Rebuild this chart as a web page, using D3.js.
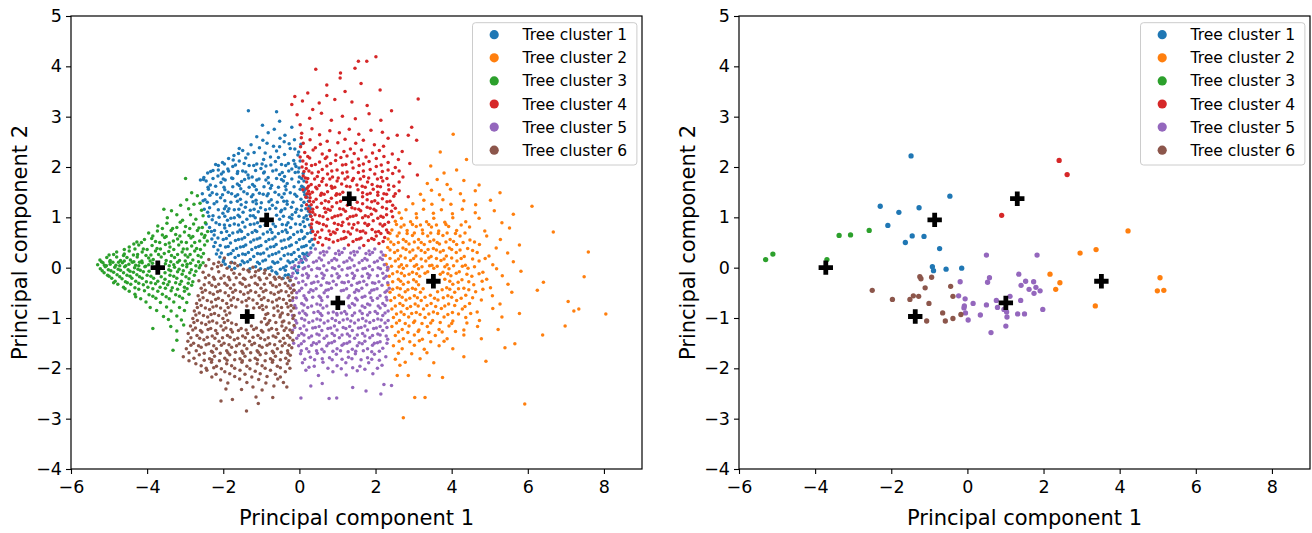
<!DOCTYPE html>
<meta charset="utf-8">
<style>
    body { margin: 0; background: #fff; }
    text { font-family: "DejaVu Sans", sans-serif; fill: #000; }
</style>
<body>
<script src="https://cdn.jsdelivr.net/npm/d3@7"></script>
<script>

// Legend labels and tab10 colours
var clusterNames = ['Tree cluster 1', 'Tree cluster 2', 'Tree cluster 3', 'Tree cluster 4', 'Tree cluster 5', 'Tree cluster 6'];
var clusterColors = ['#1f77b4', '#ff7f0e', '#2ca02c', '#d62728', '#9467bd', '#8c564b'];

var xTickValues = [-6, -4, -2, 0, 2, 4, 6, 8];
var yTickValues = [-4, -3, -2, -1, 0, 1, 2, 3, 4, 5];

// Cluster centres (same in both panels)
var centroids = [[-0.86, 0.95], [3.52, -0.27], [-3.72, 0.0], [1.31, 1.37], [1.01, -0.70], [-1.37, -0.97]];

// Left panel: all trees (PC1, PC2)
var allTrees1 = [
[-1.34,3.12],[-0.6,3.1],[-0.52,2.91],[-0.97,2.83],[-0.2,2.79],
[-1.12,2.6],[-0.82,2.68],[-0.38,2.63],[-0.66,2.75],
[-1.27,2.44],[-0.96,2.53],[-0.68,2.41],[-0.51,2.57],[-0.27,2.46],[-1.58,2.37],[-0.13,2.54],
[-1.72,2.23],[-1.49,2.33],[-1.19,2.29],[-1.05,2.38],[-0.76,2.2],[-0.6,2.32],[-0.39,2.25],[-0.24,2.37],[-0.04,2.24],
[-2.02,2.09],[-1.86,2.17],[-1.58,2.12],[-1.41,2.18],[-1.12,2.06],[-0.94,2.15],[-0.63,2.11],[-0.55,2.19],[-0.29,2.07],[-0.15,2.13],
[-2.27,1.93],[-2.13,2.03],[-1.88,1.96],[-1.75,2.01],[-1.49,1.92],[-1.32,2.03],[-1.01,1.97],[-0.88,2.02],[-0.61,1.94],[-0.47,2.05],[-0.2,1.96],[-0.09,2.01],
[-2.51,1.79],[-2.41,1.88],[-2.14,1.82],[-2.05,1.86],[-1.78,1.78],[-1.63,1.87],[-1.35,1.84],[-1.24,1.8],[-0.94,1.88],[-0.82,1.79],[-0.52,1.85],[-0.39,1.81],[-0.11,1.89],[0.0,1.8],
[-2.45,1.72],[-2.34,1.64],[-2.06,1.69],[-1.95,1.74],[-1.63,1.66],[-1.52,1.71],[-1.23,1.65],[-1.12,1.74],[-0.81,1.68],[-0.73,1.63],[-0.42,1.72],[-0.32,1.67],[-0.02,1.7],[0.06,1.62],
[-2.39,1.56],[-2.29,1.49],[-1.96,1.55],[-1.87,1.5],[-1.54,1.57],[-1.46,1.51],[-1.13,1.55],[-1.05,1.48],[-0.76,1.58],[-0.64,1.5],[-0.35,1.55],[-0.24,1.49],[0.02,1.56],[0.12,1.51],
[-2.48,1.35],[-2.35,1.44],[-2.07,1.39],[-1.96,1.33],[-1.68,1.42],[-1.55,1.36],[-1.26,1.41],[-1.14,1.34],[-0.85,1.43],[-0.74,1.35],[-0.46,1.4],[-0.33,1.32],[-0.07,1.42],[0.04,1.36],[0.18,1.41],
[-2.36,1.19],[-2.24,1.27],[-1.93,1.22],[-1.85,1.17],[-1.53,1.25],[-1.42,1.2],[-1.13,1.27],[-1.02,1.19],[-0.71,1.24],[-0.62,1.18],[-0.32,1.26],[-0.21,1.2],[0.06,1.23],[0.17,1.17],
[-2.41,1.1],[-2.27,1.03],[-2.01,1.08],[-1.88,1.12],[-1.61,1.04],[-1.48,1.1],[-1.21,1.03],[-1.08,1.11],[-0.6,1.04],[-0.49,1.11],[-0.19,1.05],[-0.1,1.1],[0.18,1.03],[0.24,1.12],
[-2.29,0.95],[-2.19,0.89],[-1.89,0.94],[-1.8,0.98],[-1.49,0.9],[-1.38,0.96],[-1.1,0.89],[-0.52,0.96],[-0.3,0.89],[-0.2,0.97],[0.1,0.91],[0.21,0.96],
[-2.36,0.8],[-2.23,0.74],[-1.96,0.79],[-1.83,0.84],[-1.56,0.75],[-1.43,0.81],[-1.16,0.74],[-1.03,0.82],[-0.76,0.76],[-0.63,0.82],[-0.36,0.75],[-0.23,0.8],[0.05,0.74],[0.14,0.82],[0.32,0.76],
[-2.24,0.65],[-2.14,0.59],[-1.84,0.64],[-1.75,0.69],[-1.44,0.6],[-1.35,0.66],[-1.04,0.59],[-0.95,0.67],[-0.64,0.61],[-0.55,0.68],[-0.24,0.6],[-0.15,0.66],[0.14,0.61],[0.21,0.68],
[-2.21,0.5],[-2.08,0.44],[-1.81,0.49],[-1.68,0.54],[-1.41,0.45],[-1.28,0.51],[-1.01,0.44],[-0.88,0.52],[-0.61,0.46],[-0.48,0.53],[-0.21,0.45],[-0.08,0.5],[0.18,0.44],[0.27,0.52],
[-2.14,0.35],[-2.05,0.29],[-1.74,0.34],[-1.65,0.38],[-1.34,0.3],[-1.25,0.36],[-0.94,0.29],[-0.85,0.37],[-0.54,0.31],[-0.45,0.38],[-0.14,0.3],[-0.03,0.36],[0.2,0.29],[0.3,0.39],
[-2.09,0.21],[-1.99,0.15],[-1.69,0.2],[-1.6,0.24],[-1.29,0.16],[-1.2,0.22],[-0.89,0.15],[-0.8,0.23],[-0.49,0.17],[-0.4,0.24],[-0.09,0.16],[0.0,0.22],[0.22,0.24],
[-1.95,0.07],[-1.84,0.02],[-1.55,0.06],[-1.45,0.1],[-1.15,0.02],[-1.05,0.08],[-0.75,0.01],[-0.65,0.09],[-0.35,0.03],[-0.25,0.1],[-0.02,0.02],[0.08,0.11],
[-0.72,-0.06],[-0.59,-0.12],[-0.37,-0.05],[-0.29,-0.14],[-0.08,-0.06],[-1.02,-0.02],[-0.43,-0.21],[-0.25,-0.26],
[-2.6,1.74],[-2.53,1.33],[-2.13,1.94],[-1.74,2.14],
[-1.6,2.27],[-1.35,2.26],[-0.9,2.28],[-0.52,2.4],[-0.12,2.36],[-0.85,2.47],[-0.4,2.5],
[-2.2,2.05],[-1.97,2.06],[-1.68,2.04],[-1.45,2.07],[-1.2,2.03],[-0.98,2.06],[-0.75,2.04],[-0.36,2.03],[-0.12,2.06],
[-2.33,1.91],[-2.0,1.9],[-1.86,1.92],[-1.62,1.91],[-1.41,1.9],[-1.15,1.93],[-0.92,1.9],[-0.7,1.92],[-0.45,1.89],[-0.28,1.92],[-0.03,1.9],
[-2.52,1.75],[-2.27,1.77],[-2.0,1.76],[-1.75,1.77],[-1.44,1.75],[-1.33,1.78],[-1.06,1.76],[-0.88,1.74],[-0.6,1.77],[-0.47,1.75],[-0.2,1.76],[0.06,1.77],
[-2.4,1.6],[-2.2,1.62],[-1.98,1.6],[-1.75,1.61],[-1.58,1.63],[-1.32,1.6],[-1.18,1.62],[-0.93,1.61],[-0.55,1.6],[-0.37,1.62],[-0.14,1.61],[0.1,1.6],
[-2.55,1.47],[-2.17,1.46],[-2.02,1.45],[-1.78,1.47],[-1.62,1.45],[-1.37,1.47],[-1.22,1.45],[-0.95,1.46],[-0.82,1.47],[-0.54,1.45],[-0.4,1.47],[-0.12,1.46],[0.14,1.45],
[-2.42,1.3],[-2.17,1.31],[-1.8,1.3],[-1.63,1.32],[-1.4,1.3],[-1.22,1.31],[-1.0,1.29],[-0.8,1.31],[-0.58,1.3],[-0.41,1.32],[-0.17,1.3],[0.12,1.3],[0.24,1.32],
[-2.5,1.16],[-2.13,1.15],[-1.97,1.17],[-1.71,1.15],[-1.59,1.16],[-1.29,1.14],[-1.19,1.16],[-0.89,1.15],[-0.78,1.17],[-0.47,1.14],[-0.38,1.17],[-0.07,1.16],[0.05,1.14],[0.3,1.17],
[-2.38,1.02],[-2.11,1.0],[-1.96,1.02],[-1.71,0.99],[-1.57,1.01],[-1.29,1.03],[-1.16,0.99],[-0.42,1.02],[-0.26,1.0],[-0.01,1.02],[0.12,0.99],[0.3,1.02],
[-2.45,0.87],[-2.1,0.86],[-1.97,0.85],[-1.71,0.87],[-1.6,0.85],[-1.29,0.86],[-1.19,0.87],[-0.9,0.85],[-0.69,0.87],[-0.45,0.86],[-0.34,0.85],[-0.1,0.87],[0.02,0.86],[0.27,0.85],
[-2.31,0.72],[-2.05,0.7],[-1.91,0.72],[-1.62,0.71],[-1.52,0.72],[-1.24,0.7],[-1.12,0.72],[-0.84,0.71],[-0.72,0.7],[-0.45,0.72],[-0.32,0.7],[-0.05,0.71],[0.06,0.72],[0.3,0.7],
[-2.3,0.57],[-2.0,0.56],[-1.92,0.58],[-1.6,0.56],[-1.51,0.57],[-1.2,0.55],[-1.11,0.57],[-0.8,0.56],[-0.7,0.57],[-0.4,0.55],[-0.29,0.57],[0.0,0.56],[0.1,0.58],[0.33,0.56],
[-2.25,0.42],[-1.94,0.41],[-1.87,0.42],[-1.55,0.41],[-1.47,0.42],[-1.15,0.4],[-1.07,0.42],[-0.76,0.41],[-0.67,0.42],[-0.36,0.4],[-0.26,0.43],[0.06,0.41],[0.12,0.42],[0.36,0.45],
[-2.18,0.27],[-1.87,0.26],[-1.8,0.28],[-1.49,0.27],[-1.42,0.26],[-1.1,0.28],[-1.02,0.27],[-0.71,0.26],[-0.62,0.28],[-0.3,0.27],[-0.21,0.26],[0.09,0.28],[0.13,0.26],
[-2.0,0.12],[-1.78,0.11],[-1.5,0.13],[-1.36,0.12],[-1.1,0.11],[-0.96,0.13],[-0.7,0.12],[-0.57,0.11],[-0.3,0.13],[-0.17,0.12],[0.05,0.16],[0.15,0.18],
[-1.7,-0.01],[-1.3,-0.02],[-0.9,-0.04],[-0.82,-0.01],[-0.5,-0.03],[-0.42,0.0],[-0.15,-0.01],[-0.05,-0.1],[-0.22,-0.18],[-0.37,-0.15],[-0.62,-0.09],
[0.02,2.12],[-0.01,1.98],[0.1,1.87],[0.12,1.72],[0.16,1.56],[0.2,1.4],[0.26,1.22],[0.28,1.05],[-0.02,2.3],[0.04,2.45]
];

var allTrees2 = [
[4.04,2.65],[4.39,2.15],[4.13,1.94],[3.7,2.3],[3.45,2.02],[3.8,1.88],
[3.36,1.67],[3.62,1.75],[3.88,1.65],[4.32,1.73],[4.72,1.64],
[3.18,1.46],[3.47,1.54],[3.68,1.45],[3.97,1.56],[4.23,1.47],[4.62,1.53],[5.27,1.49],
[2.98,1.27],[3.27,1.34],[3.48,1.26],[3.77,1.35],[3.98,1.26],[4.32,1.33],[4.63,1.25],[5.02,1.34],[6.11,1.22],
[2.62,1.09],[2.8,1.15],[3.07,1.07],[3.26,1.16],[3.52,1.08],[3.73,1.15],[4.02,1.07],[4.28,1.16],[4.62,1.09],[5.12,1.13],[5.62,1.06],
[2.52,0.92],[2.68,0.98],[2.92,0.91],[3.08,0.99],[3.34,0.91],[3.53,0.98],[3.82,0.9],[4.03,0.99],[4.37,0.91],[4.72,0.98],[5.32,0.89],
[2.43,0.75],[2.67,0.81],[2.83,0.74],[3.07,0.82],[3.23,0.75],[3.47,0.81],[3.66,0.73],[3.92,0.82],[4.13,0.74],[4.47,0.81],[4.87,0.73],[5.52,0.79],[6.67,0.71],
[2.33,0.57],[2.57,0.63],[2.73,0.56],[2.97,0.64],[3.13,0.56],[3.37,0.63],[3.53,0.55],[3.77,0.64],[3.96,0.56],[4.22,0.63],[4.48,0.55],[4.92,0.63],[5.28,0.56],
[2.32,0.4],[2.48,0.46],[2.72,0.39],[2.88,0.47],[3.12,0.39],[3.28,0.46],[3.52,0.38],[3.68,0.47],[3.94,0.39],[4.13,0.46],[4.42,0.38],[4.73,0.46],[5.17,0.39],[5.78,0.45],
[2.26,0.24],[2.5,0.3],[2.66,0.23],[2.9,0.31],[3.06,0.23],[3.3,0.3],[3.46,0.22],[3.7,0.31],[3.86,0.23],[4.12,0.3],[4.33,0.22],[4.67,0.3],[4.98,0.23],[5.47,0.29],[7.59,0.31],
[2.28,0.07],[2.52,0.13],[2.68,0.06],[2.92,0.14],[3.08,0.06],[3.32,0.13],[3.48,0.05],[3.72,0.14],[3.88,0.06],[4.14,0.13],[4.36,0.05],[4.72,0.13],[5.08,0.06],[5.62,0.12],
[2.33,-0.02],[2.57,-0.08],[2.73,-0.01],[2.97,-0.09],[3.13,-0.02],[3.37,-0.08],[3.53,-0.01],[3.77,-0.09],[3.93,-0.02],[4.2,-0.08],[4.43,-0.01],[4.82,-0.09],[5.18,-0.02],[5.82,-0.07],
[2.36,-0.17],[2.6,-0.23],[2.76,-0.16],[3.0,-0.24],[3.16,-0.17],[3.82,-0.23],[3.98,-0.16],[4.27,-0.24],[4.53,-0.17],[4.92,-0.23],[5.33,-0.16],[7.48,-0.18],[6.41,-0.29],
[2.33,-0.34],[2.57,-0.4],[2.73,-0.33],[2.97,-0.41],[3.13,-0.34],[3.87,-0.4],[4.03,-0.33],[4.32,-0.41],[4.58,-0.34],[5.02,-0.4],[5.48,-0.33],[6.25,-0.45],
[2.38,-0.49],[2.62,-0.55],[2.78,-0.48],[3.02,-0.56],[3.18,-0.49],[3.44,-0.55],[3.63,-0.48],[3.9,-0.56],[4.08,-0.49],[4.37,-0.55],[4.63,-0.48],[5.07,-0.56],[5.58,-0.49],
[2.4,-0.65],[2.64,-0.71],[2.8,-0.64],[3.04,-0.72],[3.2,-0.65],[3.46,-0.71],[3.64,-0.64],[3.92,-0.72],[4.13,-0.65],[4.47,-0.71],[4.78,-0.64],[5.27,-0.72],[7.06,-0.67],
[2.43,-0.82],[2.67,-0.88],[2.83,-0.81],[3.07,-0.89],[3.26,-0.82],[3.52,-0.88],[3.73,-0.81],[4.02,-0.89],[4.28,-0.82],[4.67,-0.88],[5.08,-0.81],[5.78,-0.91],[7.21,-0.86],[7.34,-0.82],[8.05,-0.92],
[2.47,-0.99],[2.63,-1.05],[2.87,-0.98],[3.03,-1.06],[3.3,-0.99],[3.5,-1.05],[3.8,-0.98],[4.03,-1.06],[4.37,-0.99],[4.73,-1.05],[5.32,-0.98],
[2.43,-1.17],[2.7,-1.23],[2.88,-1.16],[3.14,-1.24],[3.36,-1.17],[3.67,-1.23],[3.93,-1.16],[4.32,-1.24],[4.68,-1.17],[5.22,-1.23],[6.98,-1.16],
[2.52,-1.35],[2.73,-1.41],[3.02,-1.34],[3.23,-1.42],[3.57,-1.35],[3.88,-1.41],[4.32,-1.34],[4.78,-1.41],[6.39,-1.34],
[2.47,-1.55],[2.7,-1.61],[3.02,-1.54],[3.28,-1.62],[3.67,-1.55],[4.03,-1.61],[4.32,-1.77],[5.4,-1.59],[5.66,-1.51],
[2.52,-1.82],[2.78,-1.88],[3.17,-1.81],[3.53,-1.89],[4.9,-1.86],[2.64,-1.94],
[2.57,-2.14],[2.86,-2.14],[3.41,-2.14],[3.76,-2.18],
[3.03,-2.58],[3.3,-2.58],[2.73,-2.98],[5.92,-2.71],
[2.55,0.86],[2.75,0.85],[2.97,0.86],[3.18,0.85],[3.4,0.86],[3.6,0.85],[3.85,0.86],[4.25,0.85],
[2.38,0.68],[2.62,0.69],[2.83,0.68],[3.02,0.69],[3.24,0.68],[3.45,0.69],[3.65,0.68],[3.88,0.69],[4.1,0.68],[4.35,0.69],
[2.4,0.51],[2.6,0.5],[2.8,0.52],[3.02,0.51],[3.2,0.5],[3.43,0.52],[3.62,0.5],[3.85,0.51],[4.05,0.52],[4.3,0.5],[4.6,0.51],
[2.38,0.35],[2.58,0.34],[2.8,0.36],[2.98,0.35],[3.2,0.34],[3.38,0.36],[3.6,0.35],[3.78,0.34],[4.0,0.36],[4.22,0.35],[4.55,0.34],
[2.38,0.18],[2.6,0.17],[2.78,0.19],[3.0,0.18],[3.2,0.17],[3.4,0.19],[3.6,0.18],[3.8,0.17],[4.0,0.19],[4.25,0.18],[4.55,0.17],[4.88,0.18],
[2.42,0.03],[2.62,0.02],[2.82,0.04],[3.02,0.03],[3.22,0.02],[3.42,0.04],[3.62,0.03],[3.82,0.02],[4.05,0.04],[4.28,0.03],[4.6,0.02],
[2.45,-0.12],[2.68,-0.11],[2.88,-0.13],[3.08,-0.12],[3.3,-0.11],[3.7,-0.13],[3.9,-0.12],[4.12,-0.11],[4.4,-0.13],[4.72,-0.12],
[2.45,-0.28],[2.66,-0.27],[2.86,-0.29],[3.07,-0.28],[3.95,-0.27],[4.17,-0.29],[4.45,-0.28],[4.8,-0.27],
[2.45,-0.43],[2.65,-0.42],[2.85,-0.44],[3.05,-0.43],[3.25,-0.42],[3.75,-0.44],[3.95,-0.43],[4.18,-0.42],[4.45,-0.44],[4.82,-0.43],
[2.5,-0.6],[2.7,-0.59],[2.9,-0.61],[3.1,-0.6],[3.3,-0.59],[3.55,-0.61],[3.78,-0.6],[4.0,-0.59],[4.25,-0.61],[4.55,-0.6],
[2.52,-0.76],[2.72,-0.75],[2.92,-0.77],[3.12,-0.76],[3.35,-0.75],[3.58,-0.77],[3.82,-0.76],[4.08,-0.75],[4.35,-0.77],
[2.55,-0.92],[2.75,-0.93],[2.95,-0.91],[3.17,-0.93],[3.4,-0.92],[3.63,-0.91],[3.9,-0.93],[4.18,-0.92],[4.5,-0.91],
[2.55,-1.1],[2.78,-1.11],[3.0,-1.09],[3.22,-1.11],[3.45,-1.1],[3.7,-1.09],[4.0,-1.11],[4.4,-1.1],
[2.6,-1.28],[2.85,-1.29],[3.12,-1.27],[3.4,-1.29],[3.75,-1.28],[4.1,-1.27],
[2.62,-1.46],[2.9,-1.47],[3.15,-1.45],[3.45,-1.47],[3.8,-1.46],
[2.6,-1.7],[2.95,-1.71],[3.35,-1.69]
];

var allTrees3 = [
[-2.99,1.77],[-2.83,1.49],[-2.96,1.35],[-2.68,1.43],[-2.61,1.28],
[-3.56,1.16],[-3.36,1.13],[-3.12,1.24],[-2.91,1.17],[-2.77,1.26],[-2.57,1.14],
[-3.47,0.99],[-3.22,1.05],[-3.07,0.94],[-2.86,1.05],[-2.72,0.96],[-2.53,1.03],
[-3.72,0.83],[-3.48,0.88],[-3.33,0.78],[-3.13,0.9],[-2.99,0.82],[-2.78,0.87],[-2.64,0.79],[-2.47,0.89],
[-3.96,0.69],[-3.73,0.73],[-3.6,0.65],[-3.37,0.74],[-3.25,0.66],[-3.02,0.71],[-2.9,0.64],[-2.68,0.74],[-2.57,0.67],[-2.41,0.72],
[-4.27,0.51],[-3.88,0.58],[-4.07,0.56],[-3.67,0.5],[-3.54,0.6],[-3.31,0.53],[-3.2,0.57],[-2.97,0.5],[-2.85,0.59],[-2.62,0.53],[-2.5,0.6],
[-4.47,0.41],[-4.22,0.45],[-4.1,0.37],[-3.87,0.44],[-3.74,0.38],[-3.52,0.46],[-3.4,0.41],[-3.17,0.45],[-3.05,0.37],[-2.83,0.43],[-2.7,0.38],[-2.49,0.45],
[-4.8,0.31],[-4.6,0.27],[-4.47,0.33],[-4.25,0.26],[-4.13,0.31],[-3.9,0.25],[-3.78,0.33],[-3.55,0.28],[-3.43,0.32],[-3.2,0.26],[-3.08,0.31],[-2.87,0.26],[-2.75,0.33],[-2.52,0.28],
[-5.24,0.15],[-5.06,0.2],[-4.97,0.14],[-4.8,0.21],[-4.7,0.14],[-4.53,0.2],[-4.44,0.15],[-4.26,0.21],[-4.14,0.13],[-3.96,0.19],[-3.84,0.16],[-3.63,0.21],[-3.5,0.14],[-3.28,0.2],[-3.15,0.14],[-2.93,0.21],[-2.8,0.15],[-2.58,0.21],
[-5.3,0.06],[-5.16,0.1],[-5.07,0.04],[-4.9,0.11],[-4.82,0.05],[-4.65,0.1],[-4.56,0.04],[-4.39,0.11],[-4.3,0.05],[-4.13,0.1],[-4.04,0.03],[-3.86,0.09],[-3.52,0.08],[-3.42,0.04],[-3.2,0.11],[-3.07,0.05],[-2.86,0.09],[-2.72,0.04],[-2.53,0.1],
[-5.23,-0.02],[-5.1,0.02],[-5.02,-0.04],[-4.85,0.01],[-4.76,-0.03],[-4.59,0.02],[-4.5,-0.04],[-4.33,0.0],[-4.24,-0.03],[-4.06,0.02],[-3.43,-0.04],[-3.28,0.01],[-3.16,-0.03],[-2.96,0.02],[-2.84,-0.04],[-2.63,0.0],
[-5.13,-0.1],[-5.04,-0.15],[-4.88,-0.09],[-4.79,-0.14],[-4.62,-0.1],[-4.53,-0.15],[-4.36,-0.09],[-4.27,-0.14],[-4.1,-0.08],[-4.0,-0.15],[-3.53,-0.1],[-3.4,-0.15],[-3.2,-0.08],[-3.08,-0.13],[-2.88,-0.1],[-2.76,-0.15],
[-4.93,-0.21],[-4.84,-0.27],[-4.66,-0.22],[-4.57,-0.28],[-4.4,-0.21],[-4.3,-0.27],[-4.13,-0.21],[-4.02,-0.28],[-3.83,-0.21],[-3.72,-0.27],[-3.53,-0.23],[-3.42,-0.28],[-3.22,-0.21],[-3.1,-0.27],[-2.9,-0.22],[-2.8,-0.28],
[-4.77,-0.33],[-4.62,-0.39],[-4.43,-0.33],[-4.32,-0.4],[-4.1,-0.34],[-3.98,-0.39],[-3.78,-0.32],[-3.66,-0.39],[-3.46,-0.34],[-3.34,-0.4],[-3.14,-0.33],[-3.02,-0.39],[-2.83,-0.35],
[-4.47,-0.47],[-4.32,-0.53],[-4.07,-0.46],[-3.95,-0.54],[-3.72,-0.47],[-3.6,-0.53],[-3.37,-0.46],[-3.25,-0.54],[-3.02,-0.47],[-2.9,-0.53],
[-4.17,-0.62],[-4.03,-0.68],[-3.77,-0.61],[-3.65,-0.69],[-3.42,-0.62],[-3.3,-0.68],[-3.07,-0.61],[-2.96,-0.69],
[-3.92,-0.79],[-3.75,-0.85],[-3.49,-0.78],[-3.37,-0.86],[-3.15,-0.79],[-3.02,-0.85],
[-3.57,-0.97],[-3.44,-1.03],[-3.22,-0.96],[-3.1,-1.04],
[-3.85,-1.21],[-3.38,-1.17],[-3.22,-1.26],[-3.04,-1.14],
[-3.22,-1.44],[-3.32,-1.64],
[-5.0,0.25],[-4.88,0.26],[-4.62,0.24],[-4.36,0.25],[-4.03,0.24],[-3.7,0.26],[-3.36,0.24],[-3.0,0.25],[-2.66,0.24],
[-5.2,0.12],[-4.98,0.12],[-4.75,0.11],[-4.6,0.13],[-4.35,0.12],[-4.2,0.11],[-3.92,0.13],[-3.38,0.12],[-3.0,0.13],[-2.65,0.12],
[-5.12,0.05],[-4.97,0.07],[-4.72,0.04],[-4.48,0.07],[-4.22,0.04],[-3.96,0.06],[-3.3,0.06],[-2.95,0.07],[-2.6,0.05],
[-5.18,-0.06],[-4.95,-0.06],[-4.7,-0.05],[-4.45,-0.07],[-4.18,-0.05],[-3.95,-0.07],[-3.38,-0.06],[-3.05,-0.06],[-2.72,-0.07],
[-5.0,-0.17],[-4.72,-0.18],[-4.45,-0.17],[-4.2,-0.18],[-3.9,-0.17],[-3.63,-0.18],[-3.3,-0.17],[-2.98,-0.18],
[-4.88,-0.3],[-4.52,-0.3],[-4.22,-0.31],[-3.9,-0.3],[-3.57,-0.31],[-3.25,-0.3],[-2.92,-0.31],
[-4.58,-0.42],[-4.22,-0.43],[-3.85,-0.42],[-3.52,-0.41],[-3.2,-0.43],[-2.95,-0.42],
[-4.3,-0.58],[-3.85,-0.57],[-3.5,-0.58],[-3.15,-0.57],
[-4.6,0.36],[-4.32,0.37],[-4.0,0.36],[-3.65,0.37],[-3.3,0.36],[-2.95,0.37],[-2.6,0.36],
[-4.35,0.47],[-4.15,0.5],[-3.78,0.52],[-3.42,0.49],[-3.1,0.51],[-2.75,0.5],[-2.42,0.53],
[-3.85,0.63],[-3.5,0.62],[-3.14,0.63],[-2.8,0.62],[-2.48,0.64],
[-3.6,0.78],[-3.22,0.8],[-2.88,0.78],[-2.55,0.8]
];

var allTrees4 = [
[1.55,4.1],[1.77,4.1],[2.01,4.19],
[0.43,3.94],[1.08,3.87],[1.46,3.96],[1.07,3.77],
[0.72,3.63],[1.2,3.5],[2.12,3.53],[1.62,3.66],[0.22,3.47],[-0.12,3.4],[-0.2,3.24],[3.12,3.35],[0.72,3.42],
[0.08,3.31],[0.52,3.27],[0.93,3.34],[1.38,3.29],[1.78,3.22],[2.42,3.12],[0.35,3.14],
[-0.06,3.04],[0.27,2.97],[0.58,3.07],[0.84,2.93],[1.13,3.01],[1.47,2.96],[1.83,3.06],[2.14,2.93],[2.95,2.79],[0.02,2.84],
[0.06,2.67],[0.33,2.76],[0.53,2.64],[0.8,2.72],[1.05,2.68],[1.31,2.75],[1.56,2.65],[1.88,2.73],[2.18,2.69],[2.57,2.63],[2.86,2.63],[2.33,2.57],
[0.1,2.47],[0.28,2.54],[0.55,2.45],[0.73,2.51],[1.01,2.48],[1.2,2.55],[1.48,2.47],[1.68,2.53],[1.97,2.44],[2.21,2.41],[3.08,2.53],[0.42,2.38],[1.34,2.36],
[0.14,2.29],[0.36,2.34],[0.6,2.26],[0.79,2.33],[0.96,2.24],[1.17,2.31],[1.44,2.27],[1.63,2.34],[1.92,2.28],[2.1,2.33],[2.44,2.26],[2.7,2.31],
[0.09,2.12],[0.27,2.18],[0.53,2.1],[0.68,2.17],[0.95,2.13],[1.09,2.19],[1.38,2.1],[1.55,2.16],[1.83,2.11],[2.02,2.17],[2.33,2.09],[2.9,2.07],[2.6,2.15],
[0.18,1.97],[0.32,2.03],[0.6,1.95],[0.72,2.02],[0.99,1.94],[1.13,2.04],[1.41,1.98],[1.57,2.03],[1.86,1.95],[2.02,2.01],[2.33,1.94],[2.52,1.99],
[0.1,1.82],[0.33,1.88],[0.47,1.81],[0.74,1.86],[0.87,1.8],[1.13,1.88],[1.27,1.8],[1.55,1.89],[1.69,1.81],[1.98,1.86],[2.15,1.79],[2.45,1.87],[3.1,1.84],[2.72,1.8],
[0.19,1.7],[0.31,1.65],[0.59,1.71],[0.71,1.64],[0.99,1.72],[1.11,1.66],[1.39,1.73],[1.51,1.64],[1.79,1.7],[1.91,1.65],[2.19,1.72],[2.34,1.64],[2.62,1.7],
[0.09,1.55],[0.34,1.5],[0.46,1.57],[0.74,1.51],[0.86,1.58],[1.14,1.5],[1.54,1.55],[1.66,1.49],[1.94,1.56],[2.06,1.5],[2.35,1.55],[2.62,1.53],[2.86,1.41],
[0.17,1.4],[0.44,1.36],[0.56,1.44],[0.84,1.38],[0.96,1.44],[1.66,1.41],[1.78,1.35],[2.06,1.44],[2.18,1.37],[2.48,1.42],
[0.19,1.25],[0.46,1.2],[0.58,1.28],[0.86,1.21],[0.98,1.29],[1.26,1.24],[1.38,1.19],[1.66,1.27],[1.78,1.2],[2.06,1.28],[2.18,1.2],[2.45,1.24],
[0.28,1.11],[0.41,1.05],[0.69,1.1],[0.81,1.14],[1.09,1.05],[1.21,1.12],[1.49,1.04],[1.61,1.13],[1.89,1.06],[2.01,1.13],[2.29,1.05],[2.42,1.12],
[0.34,0.95],[0.46,0.9],[0.74,0.96],[0.86,0.99],[1.14,0.9],[1.26,0.97],[1.54,0.89],[1.66,0.99],[1.94,0.93],[2.06,0.98],[2.34,0.9],
[0.31,0.8],[0.59,0.75],[0.71,0.83],[0.99,0.76],[1.11,0.84],[1.39,0.79],[1.51,0.75],[1.79,0.84],[1.91,0.76],[2.19,0.83],[2.29,0.75],
[0.42,0.65],[0.54,0.6],[0.82,0.66],[0.94,0.69],[1.22,0.6],[1.34,0.67],[1.62,0.59],[1.74,0.69],[2.02,0.63],[2.14,0.68],
[0.49,0.5],[0.61,0.45],[0.89,0.51],[1.01,0.54],[1.29,0.45],[1.41,0.52],[1.69,0.44],[1.81,0.54],[2.09,0.48],[2.2,0.52],
[0.4,0.57],[0.7,0.58],[0.78,0.56],[1.1,0.57],[1.17,0.58],[1.5,0.56],[1.57,0.57],[1.9,0.58],[1.96,0.56],[2.24,0.6],
[0.35,0.72],[0.48,0.71],[0.78,0.73],[0.89,0.71],[1.17,0.72],[1.28,0.71],[1.6,0.72],[1.67,0.73],[2.0,0.71],[2.08,0.72],[2.33,0.7],
[0.32,0.87],[0.52,0.88],[0.63,0.86],[0.92,0.88],[1.02,0.86],[1.3,0.87],[1.43,0.86],[1.72,0.88],[1.82,0.86],[2.12,0.87],[2.24,0.86],
[0.3,1.02],[0.53,1.03],[0.62,1.01],[0.93,1.02],[1.01,1.03],[1.33,1.01],[1.41,1.02],[1.73,1.03],[1.81,1.01],[2.14,1.02],[2.2,1.0],[2.45,1.01],
[0.23,1.17],[0.35,1.16],[0.66,1.18],[0.75,1.16],[1.06,1.17],[1.15,1.16],[1.46,1.17],[1.56,1.16],[1.86,1.18],[1.96,1.16],[2.29,1.17],[2.52,1.18],
[0.27,1.32],[0.37,1.31],[0.68,1.33],[0.77,1.31],[1.08,1.32],[1.52,1.3],[1.9,1.31],[1.98,1.33],[2.3,1.31],[2.38,1.32],
[0.2,1.47],[0.27,1.46],[0.58,1.48],[0.65,1.46],[0.98,1.47],[1.06,1.46],[1.78,1.46],[1.86,1.48],[2.22,1.47],[2.29,1.46],[2.52,1.47],
[0.24,1.62],[0.43,1.6],[0.52,1.63],[0.84,1.62],[0.93,1.6],[1.24,1.62],[1.33,1.61],[1.65,1.62],[1.73,1.6],[2.05,1.62],[2.13,1.61],[2.48,1.62],
[0.22,1.77],[0.4,1.76],[0.62,1.77],[0.8,1.76],[1.02,1.78],[1.2,1.76],[1.42,1.77],[1.6,1.76],[1.82,1.78],[2.05,1.76],[2.3,1.77],
[0.25,1.92],[0.5,1.9],[0.85,1.92],[1.25,1.9],[1.68,1.92],[2.18,1.91],[2.62,1.92],
[0.18,2.06],[0.42,2.05],[0.82,2.07],[1.22,2.05],[1.68,2.06],[2.15,2.04],
[0.22,2.21],[0.72,2.2],[1.25,2.22],[1.75,2.2],[2.22,2.21],
[0.03,2.4],[0.02,2.2],[0.07,2.0],[0.12,1.91],[0.16,1.78],[0.2,1.58],[0.24,1.52],[0.28,1.39],[0.31,1.25],[0.35,1.1],[0.05,2.58]
];

var allTrees5 = [
[0.42,0.37],[0.63,0.32],[0.78,0.39],[1.03,0.33],[1.18,0.38],[1.43,0.32],[1.58,0.39],[1.83,0.33],[1.98,0.37],
[0.13,0.21],[0.25,0.26],[0.52,0.19],[0.65,0.25],[0.92,0.18],[1.05,0.26],[1.32,0.19],[1.45,0.25],[1.72,0.18],[1.85,0.26],[2.12,0.19],[2.2,0.25],
[-0.12,0.04],[-0.01,0.1],[0.24,0.03],[0.37,0.11],[0.64,0.04],[0.77,0.1],[1.04,0.03],[1.17,0.11],[1.44,0.04],[1.57,0.1],[1.84,0.03],[1.97,0.11],[2.23,0.06],
[-0.17,-0.11],[-0.05,-0.05],[0.19,-0.12],[0.32,-0.04],[0.59,-0.11],[0.72,-0.05],[0.99,-0.12],[1.12,-0.04],[1.39,-0.11],[1.52,-0.05],[1.79,-0.12],[1.92,-0.04],[2.19,-0.11],[2.31,-0.05],
[-0.09,-0.21],[0.09,-0.27],[0.22,-0.2],[0.49,-0.28],[0.62,-0.21],[0.89,-0.27],[1.02,-0.2],[1.29,-0.28],[1.42,-0.21],[1.69,-0.27],[1.82,-0.2],[2.09,-0.28],[2.22,-0.21],
[-0.18,-0.35],[0.06,-0.41],[0.17,-0.34],[0.44,-0.42],[0.57,-0.35],[0.84,-0.41],[0.97,-0.34],[1.24,-0.42],[1.37,-0.35],[1.64,-0.41],[1.77,-0.34],[2.04,-0.42],[2.17,-0.35],[2.36,-0.41],
[-0.07,-0.5],[0.12,-0.56],[0.25,-0.49],[0.52,-0.57],[0.65,-0.5],[1.31,-0.56],[1.45,-0.49],[1.72,-0.57],[1.85,-0.5],[2.12,-0.56],[2.25,-0.49],
[-0.18,-0.65],[0.06,-0.71],[0.19,-0.64],[0.46,-0.72],[0.59,-0.65],[1.39,-0.71],[1.52,-0.64],[1.79,-0.72],[1.92,-0.65],[2.19,-0.71],[2.3,-0.64],
[-0.09,-0.8],[0.09,-0.86],[0.22,-0.79],[0.49,-0.87],[0.62,-0.8],[0.89,-0.88],[1.19,-0.87],[1.32,-0.79],[1.59,-0.86],[1.72,-0.79],[1.99,-0.87],[2.12,-0.8],[2.33,-0.86],
[-0.18,-0.95],[0.06,-1.01],[0.19,-0.94],[0.46,-1.02],[0.59,-0.95],[0.86,-1.01],[0.99,-0.94],[1.26,-1.02],[1.39,-0.95],[1.66,-1.01],[1.79,-0.94],[2.06,-1.02],[2.19,-0.95],
[-0.07,-1.1],[0.12,-1.16],[0.25,-1.09],[0.52,-1.17],[0.65,-1.1],[0.92,-1.16],[1.05,-1.09],[1.32,-1.17],[1.45,-1.1],[1.72,-1.16],[1.85,-1.09],[2.12,-1.17],[2.25,-1.1],
[-0.18,-1.25],[0.06,-1.31],[0.19,-1.24],[0.46,-1.32],[0.59,-1.25],[0.86,-1.31],[0.99,-1.24],[1.26,-1.32],[1.39,-1.25],[1.66,-1.31],[1.79,-1.24],[2.06,-1.32],[2.19,-1.25],
[-0.07,-1.4],[0.12,-1.46],[0.25,-1.39],[0.52,-1.47],[0.65,-1.4],[0.92,-1.46],[1.05,-1.39],[1.32,-1.47],[1.45,-1.4],[1.72,-1.46],[1.85,-1.39],[2.12,-1.47],[2.32,-1.42],
[-0.02,-1.55],[0.19,-1.61],[0.32,-1.54],[0.59,-1.62],[0.72,-1.55],[0.99,-1.61],[1.12,-1.54],[1.39,-1.62],[1.52,-1.55],[1.79,-1.61],[1.92,-1.54],[2.19,-1.6],
[0.03,-1.71],[0.29,-1.78],[0.47,-1.7],[0.79,-1.79],[0.97,-1.72],[1.29,-1.78],[1.47,-1.71],[1.79,-1.79],[1.97,-1.72],[2.27,-1.77],
[0.08,-1.89],[0.39,-1.96],[0.62,-1.88],[0.99,-1.95],[1.22,-1.89],[1.59,-1.96],[1.82,-1.89],[2.17,-1.94],
[0.5,-2.14],[0.17,-2.04],[0.88,-2.07],[1.23,-2.13],[1.52,-2.05],[1.93,-2.11],[2.22,-2.32],
[0.04,-2.59],[0.78,-2.6],[0.98,-2.59],[2.14,-2.51],[2.42,-2.34],[0.3,-2.35],[1.4,-2.38],[1.75,-2.45],[0.6,-2.3],
[0.3,0.3],[0.55,0.29],[0.72,0.31],[0.95,0.28],[1.12,0.3],[1.35,0.29],[1.52,0.31],[1.75,0.28],[1.92,0.3],[2.15,0.31],
[0.05,0.14],[0.18,0.15],[0.45,0.13],[0.58,0.15],[0.85,0.14],[0.98,0.15],[1.25,0.13],[1.38,0.15],[1.65,0.14],[1.78,0.15],[2.05,0.13],[2.18,0.16],
[-0.2,0.0],[0.1,-0.02],[0.14,0.0],[0.47,-0.01],[0.53,-0.02],[0.87,0.0],[0.93,-0.02],[1.27,-0.01],[1.33,0.0],[1.67,-0.02],[1.73,-0.01],[2.07,0.0],[2.13,-0.02],[2.32,0.01],
[-0.2,-0.17],[0.08,-0.15],[0.24,-0.16],[0.45,-0.17],[0.65,-0.15],[0.85,-0.16],[1.05,-0.17],[1.25,-0.15],[1.45,-0.16],[1.65,-0.17],[1.85,-0.15],[2.05,-0.16],[2.28,-0.17],
[-0.02,-0.3],[0.32,-0.31],[0.38,-0.29],[0.72,-0.3],[0.78,-0.31],[1.12,-0.29],[1.18,-0.3],[1.52,-0.31],[1.58,-0.29],[1.92,-0.3],[1.98,-0.31],[2.32,-0.3],
[-0.15,-0.45],[0.0,-0.46],[0.3,-0.44],[0.36,-0.46],[0.7,-0.45],[0.76,-0.44],[1.1,-0.46],[1.16,-0.45],[1.5,-0.44],[1.56,-0.46],[1.9,-0.45],[1.96,-0.44],[2.3,-0.46],
[-0.08,-0.6],[0.16,-0.61],[0.35,-0.59],[0.56,-0.6],[0.74,-0.58],[1.28,-0.6],[1.48,-0.61],[1.65,-0.59],[1.88,-0.6],[2.05,-0.61],[2.28,-0.59],
[-0.12,-0.75],[0.12,-0.74],[0.32,-0.76],[0.55,-0.74],[0.72,-0.76],[1.3,-0.76],[1.45,-0.74],[1.65,-0.76],[1.85,-0.74],[2.07,-0.76],[2.25,-0.75],
[0.0,-0.9],[0.15,-0.91],[0.38,-0.89],[0.55,-0.91],[0.76,-0.9],[0.98,-0.91],[1.1,-0.9],[1.24,-0.92],[1.45,-0.9],[1.65,-0.91],[1.85,-0.89],[2.05,-0.91],[2.25,-0.9],
[-0.1,-1.05],[0.14,-1.04],[0.35,-1.06],[0.55,-1.04],[0.75,-1.06],[0.95,-1.05],[1.15,-1.04],[1.35,-1.06],[1.55,-1.04],[1.75,-1.06],[1.95,-1.05],[2.15,-1.04],[2.33,-1.05],
[-0.12,-1.19],[0.02,-1.21],[0.35,-1.2],[0.42,-1.19],[0.75,-1.21],[0.82,-1.2],[1.15,-1.19],[1.22,-1.21],[1.55,-1.2],[1.62,-1.19],[1.95,-1.21],[2.02,-1.2],[2.3,-1.19],
[-0.02,-1.35],[0.12,-1.34],[0.32,-1.36],[0.52,-1.34],[0.72,-1.36],[0.92,-1.35],[1.12,-1.34],[1.32,-1.36],[1.52,-1.34],[1.72,-1.36],[1.92,-1.35],[2.12,-1.34],[2.28,-1.36],
[-0.15,-1.5],[0.05,-1.51],[0.37,-1.49],[0.45,-1.51],[0.77,-1.5],[0.85,-1.49],[1.17,-1.51],[1.25,-1.5],[1.57,-1.49],[1.65,-1.51],[1.97,-1.5],[2.05,-1.49],[2.3,-1.5],
[0.05,-1.65],[0.25,-1.67],[0.45,-1.65],[0.65,-1.67],[0.88,-1.66],[1.08,-1.65],[1.28,-1.67],[1.48,-1.66],[1.68,-1.65],[1.9,-1.67],[2.1,-1.66],
[0.14,-1.82],[0.4,-1.83],[0.6,-1.81],[0.86,-1.83],[1.12,-1.82],[1.38,-1.81],[1.62,-1.83],[1.9,-1.82],[2.1,-1.84],
[0.25,-1.98],[0.75,-2.0],[1.1,-2.01],[1.4,-1.99],[1.72,-2.02],[2.05,-2.0]
];

var allTrees6 = [
[-2.38,0.16],[-2.12,0.11],[-1.97,0.19],[-1.7,0.09],[-2.25,0.08],
[-2.46,0.04],[-2.3,-0.02],[-2.05,0.05],[-1.9,-0.01],[-1.62,0.04],[-1.47,-0.03],[-1.22,0.01],[-1.07,-0.05],[-1.8,0.1],
[-2.53,-0.09],[-2.38,-0.15],[-2.12,-0.08],[-1.98,-0.16],[-1.72,-0.11],[-1.57,-0.13],[-1.32,-0.08],[-1.17,-0.16],[-0.92,-0.11],[-0.78,-0.14],[-0.53,-0.19],
[-2.64,-0.26],[-2.37,-0.3],[-2.23,-0.23],[-1.96,-0.31],[-1.83,-0.24],[-1.56,-0.3],[-1.43,-0.23],[-1.16,-0.31],[-1.03,-0.24],[-0.76,-0.3],[-0.63,-0.23],[-0.37,-0.31],[-0.24,-0.25],
[-2.58,-0.41],[-2.47,-0.45],[-2.2,-0.38],[-2.08,-0.46],[-1.81,-0.41],[-1.68,-0.45],[-1.41,-0.38],[-1.28,-0.46],[-1.01,-0.41],[-0.88,-0.45],[-0.61,-0.38],[-0.48,-0.46],[-0.24,-0.41],[-0.14,-0.45],
[-2.66,-0.56],[-2.53,-0.6],[-2.26,-0.53],[-2.13,-0.61],[-1.86,-0.56],[-1.73,-0.6],[-1.46,-0.53],[-1.33,-0.61],[-1.06,-0.56],[-0.93,-0.6],[-0.66,-0.53],[-0.53,-0.61],[-0.28,-0.56],[-0.17,-0.6],
[-2.7,-0.71],[-2.58,-0.75],[-2.31,-0.68],[-2.18,-0.76],[-1.91,-0.71],[-1.78,-0.75],[-1.51,-0.68],[-1.38,-0.76],[-1.11,-0.71],[-0.98,-0.75],[-0.71,-0.68],[-0.58,-0.76],[-0.34,-0.71],[-0.22,-0.75],
[-2.76,-0.86],[-2.63,-0.9],[-2.36,-0.83],[-2.23,-0.91],[-1.96,-0.86],[-1.83,-0.9],[-0.96,-0.83],[-0.83,-0.91],[-0.56,-0.86],[-0.45,-0.9],[-0.22,-0.86],
[-2.8,-1.01],[-2.68,-1.05],[-2.41,-0.98],[-2.28,-1.06],[-2.01,-1.01],[-1.88,-1.05],[-0.91,-1.01],[-0.78,-1.05],[-0.51,-0.98],[-0.41,-1.06],[-0.17,-1.01],
[-2.86,-1.16],[-2.73,-1.2],[-2.46,-1.13],[-2.33,-1.21],[-2.06,-1.16],[-1.93,-1.2],[-1.66,-1.13],[-1.53,-1.21],[-1.26,-1.16],[-1.13,-1.2],[-0.86,-1.13],[-0.73,-1.21],[-0.46,-1.16],[-0.35,-1.2],[-0.14,-1.15],
[-2.92,-1.31],[-2.69,-1.35],[-2.56,-1.28],[-2.29,-1.36],[-2.16,-1.31],[-1.89,-1.35],[-1.76,-1.28],[-1.49,-1.36],[-1.36,-1.31],[-1.09,-1.35],[-0.96,-1.28],[-0.69,-1.36],[-0.56,-1.31],[-0.31,-1.35],[-0.19,-1.29],
[-2.93,-1.46],[-2.78,-1.5],[-2.51,-1.43],[-2.38,-1.51],[-2.11,-1.46],[-1.98,-1.5],[-1.71,-1.43],[-1.58,-1.51],[-1.31,-1.46],[-1.18,-1.5],[-0.91,-1.43],[-0.78,-1.51],[-0.51,-1.46],[-0.38,-1.5],[-0.17,-1.44],
[-2.97,-1.61],[-2.71,-1.65],[-2.58,-1.58],[-2.31,-1.66],[-2.18,-1.61],[-1.91,-1.65],[-1.78,-1.58],[-1.51,-1.66],[-1.38,-1.61],[-1.11,-1.65],[-0.98,-1.58],[-0.71,-1.66],[-0.58,-1.61],[-0.31,-1.65],[-0.2,-1.59],
[-3.05,-1.77],[-2.77,-1.8],[-2.63,-1.73],[-2.36,-1.81],[-2.23,-1.76],[-1.96,-1.8],[-1.83,-1.73],[-1.56,-1.81],[-1.43,-1.76],[-1.16,-1.8],[-1.03,-1.73],[-0.76,-1.81],[-0.63,-1.76],[-0.36,-1.8],[-0.24,-1.74],
[-2.72,-1.91],[-2.58,-1.95],[-2.31,-1.88],[-2.18,-1.96],[-1.91,-1.91],[-1.78,-1.95],[-1.51,-1.88],[-1.38,-1.96],[-1.11,-1.91],[-0.98,-1.95],[-0.71,-1.88],[-0.58,-1.96],[-0.32,-1.91],
[-2.58,-2.08],[-2.19,-2.12],[-2.43,-2.04],[-1.96,-2.07],[-1.83,-2.11],[-1.56,-2.04],[-1.43,-2.12],[-1.16,-2.06],[-1.03,-2.11],[-0.76,-2.04],[-0.63,-2.12],[-0.37,-2.07],
[-2.07,-2.23],[-1.88,-2.29],[-1.57,-2.21],[-1.38,-2.28],[-1.07,-2.22],[-0.88,-2.29],[-0.57,-2.21],[-0.42,-2.28],
[-1.52,-2.42],[-1.22,-2.37],[-0.98,-2.43],[-0.67,-2.35],[-0.33,-2.37],[-1.93,-2.41],
[-2.06,-2.65],[-1.76,-2.62],[-1.14,-2.57],[-1.08,-2.7],[-0.7,-2.58],[-1.39,-2.85],
[-2.15,0.02],[-1.78,-0.04],[-1.35,-0.05],[-1.15,-0.08],[-0.9,-0.05],
[-2.47,-0.2],[-2.26,-0.19],[-2.06,-0.21],[-1.86,-0.19],[-1.66,-0.2],[-1.47,-0.21],[-1.26,-0.19],[-1.06,-0.2],[-0.86,-0.21],[-0.66,-0.19],[-0.46,-0.22],[-0.3,-0.2],
[-2.5,-0.34],[-2.3,-0.35],[-2.12,-0.33],[-1.9,-0.35],[-1.72,-0.34],[-1.5,-0.33],[-1.32,-0.35],[-1.1,-0.34],[-0.92,-0.33],[-0.7,-0.35],[-0.52,-0.34],[-0.3,-0.36],[-0.15,-0.34],
[-2.55,-0.49],[-2.35,-0.5],[-2.15,-0.48],[-1.95,-0.5],[-1.75,-0.49],[-1.55,-0.48],[-1.35,-0.5],[-1.15,-0.49],[-0.95,-0.48],[-0.75,-0.5],[-0.55,-0.49],[-0.35,-0.48],[-0.2,-0.5],
[-2.62,-0.64],[-2.42,-0.65],[-2.2,-0.63],[-2.02,-0.65],[-1.8,-0.64],[-1.62,-0.63],[-1.4,-0.65],[-1.22,-0.64],[-1.0,-0.63],[-0.82,-0.65],[-0.6,-0.64],[-0.42,-0.63],[-0.25,-0.65],
[-2.68,-0.79],[-2.47,-0.8],[-2.27,-0.78],[-2.07,-0.8],[-1.87,-0.79],[-1.67,-0.78],[-1.2,-0.8],[-1.05,-0.79],[-0.87,-0.78],[-0.67,-0.8],[-0.47,-0.79],[-0.3,-0.78],[-0.15,-0.8],
[-2.72,-0.94],[-2.52,-0.95],[-2.32,-0.93],[-2.12,-0.95],[-1.92,-0.94],[-0.88,-0.93],[-0.67,-0.95],[-0.5,-0.94],[-0.3,-0.93],[-0.14,-0.95],
[-2.77,-1.09],[-2.57,-1.1],[-2.37,-1.08],[-2.17,-1.1],[-1.97,-1.09],[-1.78,-1.1],[-1.0,-1.08],[-0.82,-1.1],[-0.62,-1.09],[-0.45,-1.08],[-0.27,-1.1],
[-2.8,-1.24],[-2.6,-1.25],[-2.4,-1.23],[-2.2,-1.25],[-2.0,-1.24],[-1.8,-1.23],[-1.6,-1.25],[-1.4,-1.24],[-1.2,-1.23],[-1.0,-1.25],[-0.8,-1.24],[-0.6,-1.23],[-0.4,-1.25],[-0.25,-1.24],
[-2.85,-1.39],[-2.62,-1.4],[-2.42,-1.38],[-2.22,-1.4],[-2.02,-1.39],[-1.82,-1.38],[-1.62,-1.4],[-1.42,-1.39],[-1.22,-1.38],[-1.02,-1.4],[-0.82,-1.39],[-0.62,-1.38],[-0.42,-1.4],[-0.25,-1.39],
[-2.85,-1.54],[-2.65,-1.55],[-2.45,-1.53],[-2.25,-1.55],[-2.05,-1.54],[-1.85,-1.53],[-1.65,-1.55],[-1.45,-1.54],[-1.25,-1.53],[-1.05,-1.55],[-0.85,-1.54],[-0.65,-1.53],[-0.45,-1.55],[-0.27,-1.54],
[-2.9,-1.69],[-2.5,-1.7],[-2.28,-1.68],[-2.08,-1.7],[-1.88,-1.69],[-1.68,-1.68],[-1.48,-1.7],[-1.28,-1.69],[-1.08,-1.68],[-0.88,-1.7],[-0.68,-1.69],[-0.48,-1.68],[-0.3,-1.7],
[-2.9,-1.85],[-2.5,-1.84],[-2.3,-1.83],[-2.1,-1.85],[-1.9,-1.84],[-1.7,-1.83],[-1.5,-1.85],[-1.3,-1.84],[-1.1,-1.83],[-0.9,-1.85],[-0.7,-1.84],[-0.5,-1.83],[-0.28,-1.85],
[-2.45,-2.0],[-2.25,-1.99],[-2.05,-2.01],[-1.7,-2.0],[-1.3,-2.01],[-0.9,-2.0],[-0.5,-1.99],[-0.25,-2.0],
[-2.3,-2.17],[-1.7,-2.16],[-1.25,-2.17],[-0.85,-2.16],[-0.5,-2.17]
];

// Right panel: the sampled trees
var sampleTrees1 = [[-1.48,2.22],[-0.46,1.42],[-2.29,1.22],[-1.8,1.1],[-1.27,1.19],[-2.09,0.84],[-1.45,0.63],[-1.14,0.62],[-1.63,0.5],[-0.73,0.38],[-0.92,0.02],[-0.89,-0.06],[-0.56,-0.03],[-0.15,-0.01]];
var sampleTrees2 = [[4.22,0.73],[2.96,0.29],[3.38,0.36],[2.17,-0.13],[2.43,-0.3],[2.32,-0.43],[3.36,-0.76],[5.06,-0.2],[4.99,-0.46],[5.16,-0.45]];
var sampleTrees3 = [[-5.3,0.16],[-5.11,0.27],[-3.69,0.16],[-3.37,0.64],[-3.07,0.65],[-2.58,0.74]];
var sampleTrees4 = [[2.41,2.13],[2.62,1.85],[0.9,1.04]];
var sampleTrees5 = [[0.5,0.25],[-0.19,-0.28],[0.58,-0.2],[0.53,-0.29],[-0.23,-0.56],[-0.06,-0.62],[-0.08,-0.76],[-0.09,-0.8],[0.15,-0.71],[-0.05,-0.9],[0.02,-1.04],[0.34,-0.94],[0.5,-0.74],[0.76,-0.65],[0.79,-0.79],[0.62,-1.29],[1.83,0.25],[1.35,-0.13],[1.41,-0.35],[1.53,-0.27],[1.74,-0.28],[1.62,-0.43],[1.8,-0.39],[1.75,-0.51],[1.91,-0.46],[1.12,-0.57],[1.4,-0.65],[1.03,-0.88],[1.04,-0.98],[1.01,-1.16],[1.32,-0.92],[1.5,-0.92],[1.98,-0.83],[0.96,-0.83]];
var sampleTrees6 = [[-2.5,-0.45],[-1.97,-0.63],[-1.51,-0.63],[-1.42,-0.56],[-1.28,-0.57],[-1.25,-0.18],[-1.22,-0.22],[-0.94,-0.19],[-1.11,-0.4],[-1.01,-0.71],[-1.07,-1.06],[-0.65,-0.9],[-0.58,-1.06],[-0.38,-1.01],[-0.44,-0.37],[-0.38,-0.57],[-0.17,-0.93]];

// Layout
var width = 1312, height = 533;
var plotTop = 16, plotBottom = 469;
var panels = [
    {left: 71, right: 642, series: [allTrees1, allTrees2, allTrees3, allTrees4, allTrees5, allTrees6], radius: 1.75},
    {left: 739, right: 1310, series: [sampleTrees1, sampleTrees2, sampleTrees3, sampleTrees4, sampleTrees5, sampleTrees6], radius: 2.65}
];

var svg = d3.select('body').append('svg')
    .attr('width', width)
    .attr('height', height);

panels.forEach(function(p) {
    var x = d3.scaleLinear().domain([-6, 9]).range([p.left, p.right]);
    var y = d3.scaleLinear().domain([-4, 5]).range([plotBottom, plotTop]);

    var g = svg.append('g');

    // points, one group per cluster
    p.series.forEach(function(pts, i) {
        g.append('g')
            .selectAll('circle')
            .data(pts)
            .enter().append('circle')
            .attr('cx', function(d) { return x(d[0]); })
            .attr('cy', function(d) { return y(d[1]); })
            .attr('r', p.radius)
            .style('fill', clusterColors[i]);
    });

    // cluster centres as filled plus markers
    g.append('g')
        .selectAll('path')
        .data(centroids)
        .enter().append('path')
        .attr('d', d3.symbol().type(d3.symbolCross).size(115))
        .attr('transform', function(d) { return 'translate(' + x(d[0]) + ',' + y(d[1]) + ')'; })
        .style('fill', '#000');

    // axes
    var xAxis = g.append('g')
        .attr('transform', 'translate(0,' + plotBottom + ')')
        .call(d3.axisBottom(x).tickValues(xTickValues).tickSize(5).tickSizeOuter(0).tickPadding(7));
    var yAxis = g.append('g')
        .attr('transform', 'translate(' + p.left + ',0)')
        .call(d3.axisLeft(y).tickValues(yTickValues).tickSize(5).tickSizeOuter(0).tickPadding(4));
    [xAxis, yAxis].forEach(function(a) {
        a.select('.domain').remove();
        a.selectAll('line').style('stroke', '#000').style('stroke-width', 1.1);
        a.selectAll('text').style('font-size', '17.5px').style('font-family', '"DejaVu Sans", sans-serif');
    });

    // frame
    g.append('rect')
        .attr('x', p.left)
        .attr('y', plotTop)
        .attr('width', p.right - p.left)
        .attr('height', plotBottom - plotTop)
        .style('fill', 'none')
        .style('stroke', '#000')
        .style('stroke-width', 1.2);

    // axis titles
    g.append('text')
        .attr('x', (p.left + p.right) / 2)
        .attr('y', 525)
        .attr('text-anchor', 'middle')
        .style('font-size', '21px')
        .text('Principal component 1');
    g.append('text')
        .attr('transform', 'translate(' + (p.left - 44) + ',' + (plotTop + plotBottom) / 2 + ') rotate(-90)')
        .attr('text-anchor', 'middle')
        .style('font-size', '21px')
        .text('Principal component 2');

    // legend
    var legendX = p.right - 169.5, legendY = 22.7;
    var legend = g.append('g');
    legend.append('rect')
        .attr('x', legendX)
        .attr('y', legendY)
        .attr('width', 164.4)
        .attr('height', 142.3)
        .attr('rx', 3)
        .style('fill', '#fff')
        .style('fill-opacity', 0.8)
        .style('stroke', '#cccccc')
        .style('stroke-width', 1);
    var rows = legend.selectAll('g.row')
        .data(clusterNames)
        .enter().append('g')
        .attr('class', 'row')
        .attr('transform', function(d, i) { return 'translate(0,' + (legendY + 12 + i * 23.1) + ')'; });
    rows.append('circle')
        .attr('cx', legendX + 21.7)
        .attr('cy', 0)
        .attr('r', 4.6)
        .style('fill', function(d, i) { return clusterColors[i]; });
    rows.append('text')
        .attr('x', legendX + 50)
        .attr('dy', '0.36em')
        .style('font-size', '15.5px')
        .text(function(d) { return d; });
});

</script>
</body>
